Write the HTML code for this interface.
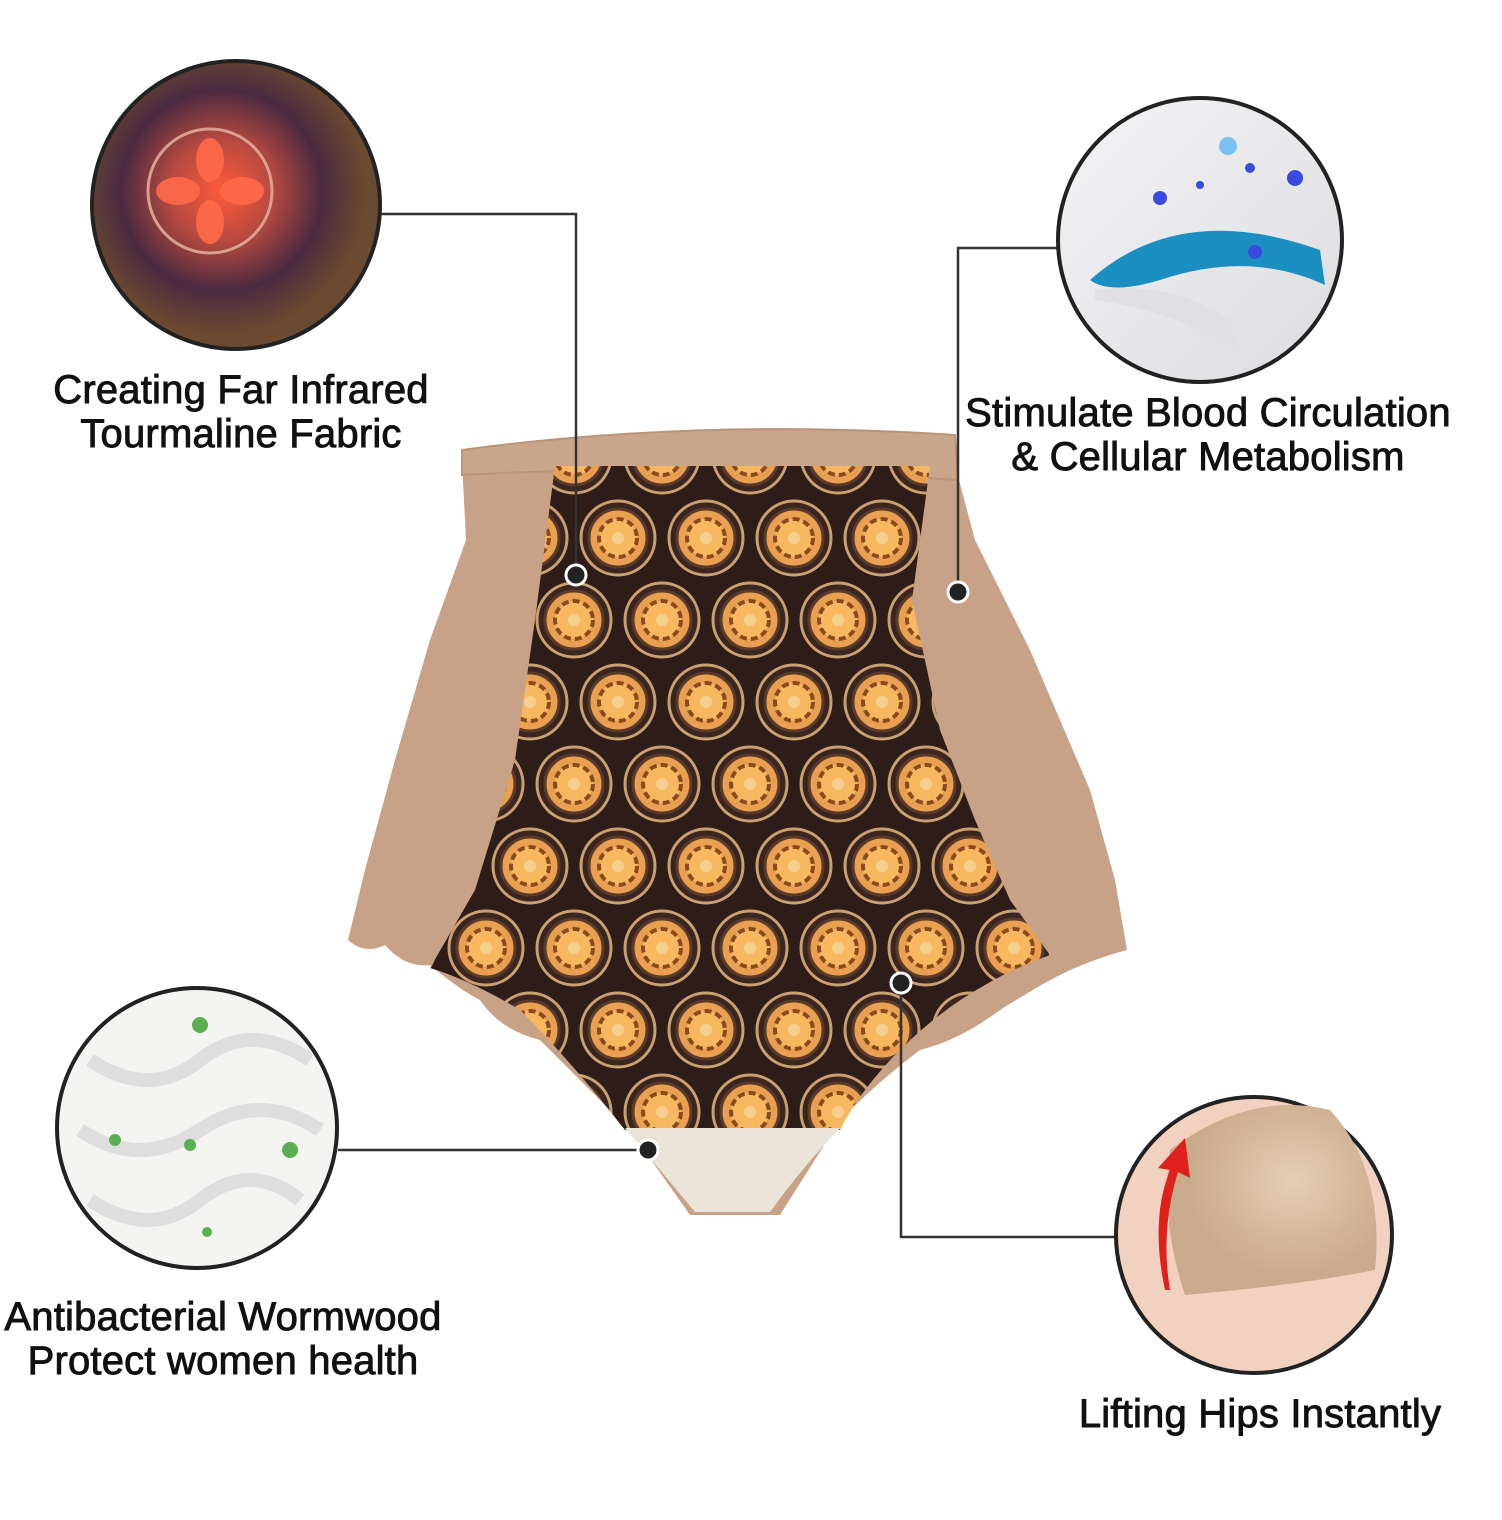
<!DOCTYPE html>
<html><head><meta charset="utf-8"><style>
html,body{margin:0;padding:0;background:#fff;}
body{width:1502px;height:1520px;position:relative;overflow:hidden;font-family:"Liberation Sans","DejaVu Sans",sans-serif;}
.t{position:absolute;font-size:40px;color:#111;text-align:center;-webkit-text-stroke:0.9px #111;white-space:nowrap;line-height:44px;letter-spacing:0.2px}
</style></head><body>
<svg width="1502" height="1520" style="position:absolute;left:0;top:0">
<defs>
<pattern id="flw" width="88" height="164" patternUnits="userSpaceOnUse" x="530" y="415">
<rect width="88" height="164" fill="#2e1c18"/>
<g id="f"><circle cx="44" cy="41" r="37" fill="#3a2520" stroke="#c9a070" stroke-width="3"/>
<circle cx="44" cy="41" r="29" fill="#e9a050" stroke="#5a3a28" stroke-width="3"/>
<circle cx="44" cy="41" r="19" fill="#f7b860" stroke="#8a4a20" stroke-width="4" stroke-dasharray="7 4"/>
<circle cx="44" cy="41" r="6" fill="#f5d090"/></g>
<use href="#f" x="-44" y="82"/><use href="#f" x="44" y="82"/>
</pattern>
<radialGradient id="g1" cx="45%" cy="45%"><stop offset="0" stop-color="#ff5a3a"/><stop offset="0.35" stop-color="#b84a40"/><stop offset="0.7" stop-color="#4a2a40"/><stop offset="1" stop-color="#6a4a30"/></radialGradient>
<linearGradient id="g2" x1="0" y1="0" x2="1" y2="1"><stop offset="0" stop-color="#f4f4f6"/><stop offset="1" stop-color="#dcdce0"/></linearGradient>
<radialGradient id="g3" cx="60%" cy="40%"><stop offset="0" stop-color="#e6cfb4"/><stop offset="1" stop-color="#c9aa8c"/></radialGradient>
</defs>

<path d="M462,462 L466,540 L430,640 L395,760 L365,870 L348,940 Q365,955 385,945 Q405,968 430,965 Q460,990 480,1000 Q500,1030 540,1040 Q580,1080 630,1130 L690,1215 L780,1215 L840,1120 Q880,1080 920,1050 Q960,1040 1000,1010 Q1040,985 1060,975 Q1090,960 1127,950 L1115,880 L1090,790 L1030,650 L975,540 L955,465 Z" fill="#c7a287"/>
<path d="M462,450 Q700,418 955,435 L958,480 Q700,462 462,475 Z" fill="#c9a58a" stroke="#b89478" stroke-width="2"/>
<path d="M555,466 L930,466 L912,600 L940,730 L975,820 L1010,900 L1050,955 Q1010,970 985,985 Q940,1010 900,1050 Q860,1090 840,1130 L625,1130 Q570,1060 520,1010 Q470,980 430,968 L475,890 L515,760 L535,620 Z" fill="url(#flw)"/>
<path d="M625,1128 L840,1128 Q800,1170 770,1212 L695,1212 Q660,1170 625,1128 Z" fill="#ece4d8"/>

<g fill="none" stroke="#333" stroke-width="2.5">
<polyline points="380,214 576,214 576,575"/>
<polyline points="1058,248 958,248 958,592"/>
<polyline points="338,1150 648,1150"/>
<polyline points="901,983 901,1237 1115,1237"/>
</g>
<g fill="#222" stroke="#fff" stroke-width="3">
<circle cx="576" cy="575" r="10"/><circle cx="958" cy="592" r="10"/>
<circle cx="648" cy="1150" r="10"/><circle cx="901" cy="983" r="10"/>
</g>

<circle cx="236" cy="205" r="144" fill="url(#g1)" stroke="#222" stroke-width="4"/>
<g fill="#ff6a4a" opacity="0.9">
<ellipse cx="210" cy="160" rx="14" ry="22"/><ellipse cx="210" cy="222" rx="14" ry="22"/>
<ellipse cx="178" cy="191" rx="22" ry="14"/><ellipse cx="242" cy="191" rx="22" ry="14"/>
</g>
<circle cx="210" cy="191" r="62" fill="none" stroke="#d9a090" stroke-width="3"/>
<circle cx="1200" cy="240" r="142" fill="url(#g2)" stroke="#222" stroke-width="4"/>
<path d="M1090,280 Q1180,200 1320,250 L1325,285 Q1250,250 1160,280 Q1110,295 1090,280 Z" fill="#1a8fc0"/>
<path d="M1095,290 Q1170,280 1230,320 L1240,350 Q1170,310 1095,300 Z" fill="#e0e0e4"/>
<g fill="#3a4adf"><circle cx="1160" cy="198" r="7"/><circle cx="1250" cy="168" r="5"/><circle cx="1295" cy="178" r="8"/><circle cx="1228" cy="146" r="9" fill="#7ac0f0"/><circle cx="1255" cy="252" r="7"/><circle cx="1200" cy="185" r="4"/></g>
<circle cx="197" cy="1128" r="140" fill="#f4f4f2" stroke="#222" stroke-width="4"/>
<g fill="none" stroke="#dedede" stroke-width="14">
<path d="M90,1060 Q150,1100 200,1060 T310,1060"/><path d="M80,1130 Q140,1170 200,1130 T320,1130"/><path d="M90,1200 Q150,1240 200,1200 T300,1200"/>
</g>
<g fill="#5ab050"><circle cx="200" cy="1025" r="8"/><circle cx="290" cy="1150" r="8"/><circle cx="115" cy="1140" r="6"/><circle cx="190" cy="1145" r="6"/><circle cx="207" cy="1232" r="5"/></g>
<circle cx="1254" cy="1235" r="138" fill="#f1d2c0" stroke="#222" stroke-width="4"/>
<path d="M1170,1150 Q1250,1090 1330,1110 Q1385,1170 1375,1270 Q1300,1285 1185,1295 Q1160,1220 1170,1150 Z" fill="url(#g3)"/>
<path d="M1165,1290 Q1150,1220 1170,1170 L1158,1168 L1185,1138 L1190,1178 L1178,1172 Q1160,1230 1170,1290 Z" fill="#e0201c"/>
</svg>
<div class="t" style="left:21px;top:368px;width:440px">Creating Far Infrared<br>Tourmaline Fabric</div>
<div class="t" style="left:938px;top:391px;width:540px">Stimulate Blood Circulation<br>&amp; Cellular Metabolism</div>
<div class="t" style="left:-20px;top:1295px;width:486px">Antibacterial Wormwood<br>Protect women health</div>
<div class="t" style="left:1040px;top:1392px;width:440px">Lifting Hips Instantly</div>
</body></html>
